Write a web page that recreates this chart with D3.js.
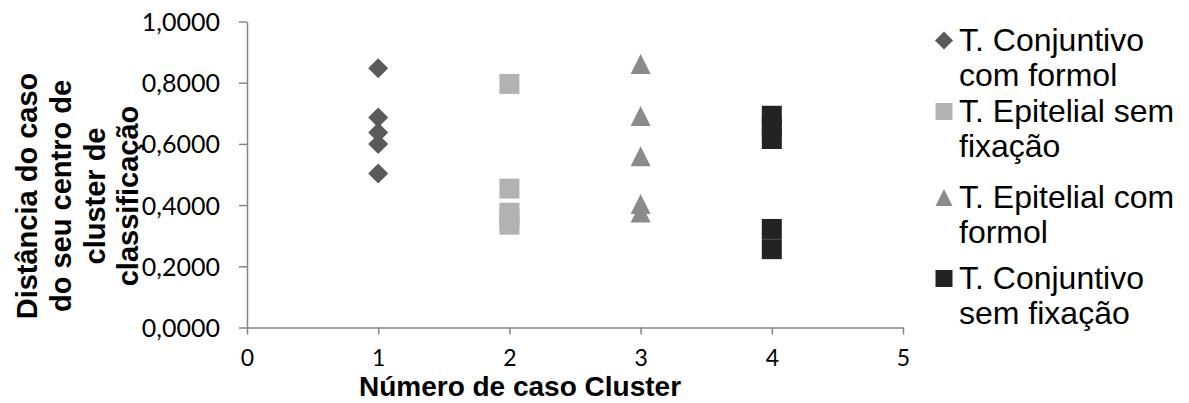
<!DOCTYPE html>
<html>
<head>
<meta charset="utf-8">
<script src="https://cdn.jsdelivr.net/npm/d3@7"></script>
<style>
  html, body { margin: 0; padding: 0; background: #ffffff; }
  svg { display: block; }
</style>
</head>
<body>
<svg id="chart" width="1189" height="403"></svg>
<script>
// Cluster number (x) for each group of cases
const clusterIds = [1, 2, 3, 4];

// Distance of each case from its classification cluster centre
const conjuntivoComFormol = [0.847, 0.686, 0.637, 0.600, 0.503];
const epitelialSemFixacao = [0.796, 0.454, 0.375, 0.355, 0.336];
const epitelialComFormol = [0.861, 0.691, 0.560, 0.404, 0.376];
const conjuntivoSemFixacao = [0.692, 0.655, 0.616, 0.322, 0.256];

// Legend labels (two lines each)
const seriesNames = [
  ["T. Conjuntivo", "com formol"],
  ["T. Epitelial sem", "fixação"],
  ["T. Epitelial com", "formol"],
  ["T. Conjuntivo", "sem fixação"]
];

// Axis ticks
const xTicks = [0, 1, 2, 3, 4, 5];
const yTicks = [0, 0.2, 0.4, 0.6, 0.8, 1.0];

const yTitleLines = ["Distância do caso", "do seu centro de", "cluster de", "classificação"];
const xTitle = "Número de caso Cluster";

const seriesValues = [conjuntivoComFormol, epitelialSemFixacao, epitelialComFormol, conjuntivoSemFixacao];
const shapes = ["diamond", "square", "triangle", "square"];
const colors = ["#5a5a5a", "#b2b2b2", "#8b8b8b", "#232323"];

const svg = d3.select("#chart");

const x = d3.scaleLinear().domain([0, 5]).range([247, 903]);
const y = d3.scaleLinear().domain([0, 1]).range([327.5, 21.5]);

// marker path centred on (0,0), s = full width
function markerPath(shape, s) {
  const h = s / 2;
  if (shape === "diamond") return `M0,${-h}L${h},0L0,${h}L${-h},0Z`;
  if (shape === "triangle") return `M0,${-h}L${h},${h}L${-h},${h}Z`;
  return `M${-h},${-h}H${h}V${h}H${-h}Z`;
}

const axisColor = "#868686";
const tickFont = "Lato, 'Open Sans', sans-serif";

// Y axis
const yAxis = svg.append("g")
  .attr("transform", `translate(${x(0)},0)`)
  .call(d3.axisLeft(y).tickValues(yTicks).tickSize(8).tickSizeOuter(0)
    .tickFormat(d => d3.format(".4f")(d).replace(".", ",")));
yAxis.select(".domain").attr("stroke", axisColor).attr("stroke-width", 1.5);
yAxis.selectAll(".tick line").attr("stroke", axisColor).attr("stroke-width", 1.5);
yAxis.selectAll(".tick text")
  .attr("x", -27)
  .attr("dy", "0.36em")
  .attr("fill", "#000")
  .style("font-family", tickFont)
  .style("font-size", "25px");

// X axis
const xAxis = svg.append("g")
  .attr("transform", `translate(0,${y(0)})`)
  .call(d3.axisBottom(x).tickValues(xTicks).tickSize(7).tickSizeOuter(0).tickFormat(d3.format("d")));
xAxis.select(".domain").attr("stroke", axisColor).attr("stroke-width", 1.5);
xAxis.selectAll(".tick line").attr("stroke", axisColor).attr("stroke-width", 1.5);
xAxis.selectAll(".tick text")
  .attr("y", 38.5)
  .attr("dy", "0")
  .attr("fill", "#000")
  .style("font-family", tickFont)
  .style("font-size", "23px");

// Points
seriesValues.forEach((vals, i) => {
  svg.append("g").selectAll("path")
    .data(vals)
    .join("path")
    .attr("d", markerPath(shapes[i], 20))
    .attr("transform", v => `translate(${x(clusterIds[i])},${y(v)})`)
    .attr("fill", colors[i]);
});

// Y title (rotated, four lines)
const yTitleBaselines = [37, 71, 104.5, 138];
yTitleLines.forEach((t, i) => {
  svg.append("text")
    .attr("transform", `translate(${yTitleBaselines[i]},196) rotate(-90)`)
    .attr("text-anchor", "middle")
    .style("font-family", "'Liberation Sans', Arial, sans-serif")
    .style("font-weight", "bold")
    .style("font-size", "29px")
    .attr("fill", "#000")
    .text(t);
});

// X title
svg.append("text")
  .attr("x", 520)
  .attr("y", 396)
  .attr("text-anchor", "middle")
  .style("font-family", "'Liberation Sans', Arial, sans-serif")
  .style("font-weight", "bold")
  .style("font-size", "28px")
  .attr("fill", "#000")
  .text(xTitle);

// Legend
const legendBaselines = [51, 122, 208, 289];
const legend = svg.append("g");
seriesNames.forEach((lines, i) => {
  const b = legendBaselines[i];
  legend.append("path")
    .attr("d", markerPath(shapes[i], shapes[i] === "diamond" ? 18 : 17))
    .attr("transform", `translate(944,${b - 10.5})`)
    .attr("fill", colors[i]);
  lines.forEach((t, j) => {
    legend.append("text")
      .attr("x", 959)
      .attr("y", b + j * 35)
      .style("font-family", "'Liberation Sans', Arial, sans-serif")
      .style("font-size", "32px")
      .attr("fill", "#000")
      .text(t);
  });
});
</script>
</body>
</html>
